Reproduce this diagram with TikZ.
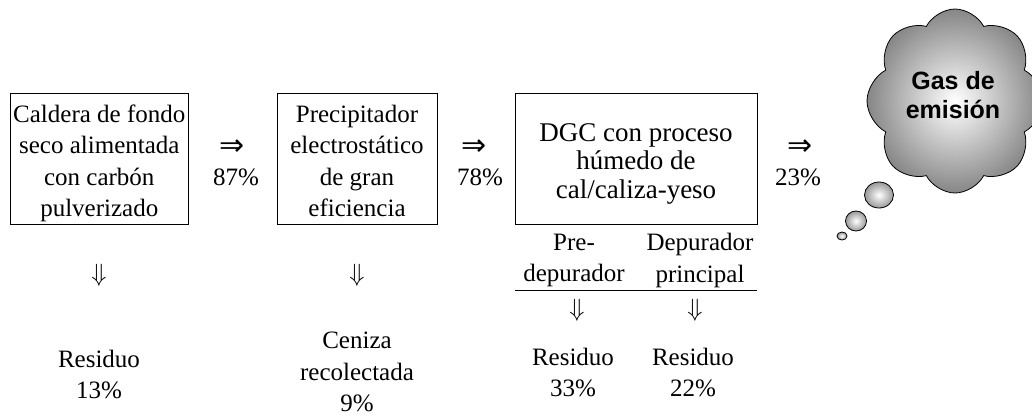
\documentclass[tikz,border=0pt]{standalone}
\usepackage{fontspec}
\setmainfont{Liberation Serif}
\newfontfamily\cloudfont{Liberation Sans}
\newfontfamily\arrowfont{DejaVu Sans}
\usetikzlibrary{shapes.symbols,shapes.geometric}

\begin{document}
\begin{tikzpicture}[x=1pt, y=-1pt,
  box/.style={draw, thin, inner sep=0pt, minimum height=131},
  txt/.style={align=center, inner sep=0pt, font=\fontsize{25}{31.5}\selectfont},
  fwd/.style={inner sep=0pt, font=\arrowfont\fontsize{30}{30}\selectfont},
  down/.style={inner sep=0pt, font=\fontsize{28}{28}\selectfont},
  bubble/.style={ellipse, draw, thick, inner sep=0pt, inner color=white, outer color=gray!80}]
\useasboundingbox (0,0) rectangle (1032,416);

% equipos
\node[box, minimum width=178.5] (cald) at (99.3,158.5) {};
\node[box, minimum width=160] (prec) at (357,158.5) {};
\node[box, minimum width=242] (dgc) at (636,158.5) {};
\node[txt] (caldtxt) at ([yshift=-5pt]cald.center) {Caldera de fondo\\seco alimentada\\con carb\'on\\pulverizado};
\node[txt] (prectxt) at ([yshift=-2.5pt]prec.center) {Precipitador\\electrost\'atico\\de gran\\eficiencia};
\node[txt, font=\fontsize{27}{28.5}\selectfont] (dgctxt) at ([yshift=-5pt]dgc.center) {DGC con proceso\\h\'umedo de\\cal/caliza-yeso};

% flujo de gas
\node[fwd] (f1) at (232,148) {⇒};
\node[txt, anchor=base] (p1) at (236,185) {87\%};
\node[fwd] (f2) at (474,148) {⇒};
\node[txt, anchor=base] (p2) at (480,185) {78\%};
\node[fwd] (f3) at (800,148) {⇒};
\node[txt, anchor=base] (p3) at (798,185) {23\%};

% depuradores
\node[txt] (pre) at (574,260.5) {Pre-\\depurador};
\node[txt] (princ) at (700,260.5) {Depurador\\principal};
\coordinate (lnl) at (515,290);
\coordinate (lnr) at (757,290);
\draw[thin] (lnl) -- (lnr);

% residuos
\node[down] (d1) at (99,275) {$\Downarrow$};
\node[down] (d2) at (357,275) {$\Downarrow$};
\node[down] (d3) at (577,310) {$\Downarrow$};
\node[down] (d4) at (695,310) {$\Downarrow$};
\node[txt] (r1) at (99,374.5) {Residuo\\13\%};
\node[txt] (r2) at (357,372) {Ceniza\\recolectada\\9\%};
\node[txt] (r3) at (573,372.5) {Residuo\\33\%};
\node[txt] (r4) at (693,372.5) {Residuo\\22\%};

% nube
\node[cloud, cloud puffs=8, cloud puff arc=125, cloud ignores aspect, minimum width=176, minimum height=184,
  draw, thick, inner color=white, outer color=gray!95] (gas) at (955,101) {};
\node[align=center, inner sep=0pt, font=\cloudfont\bfseries\fontsize{25}{29}\selectfont] (gastxt) at (953,95) {Gas de\\emisi\'on};
\node[bubble, minimum width=29, minimum height=26] (b1) at (879,195) {};
\node[bubble, minimum width=21, minimum height=20] (b2) at (856,221) {};
\node[bubble, minimum width=10, minimum height=8] (b3) at (842,236) {};
\end{tikzpicture}
\end{document}
